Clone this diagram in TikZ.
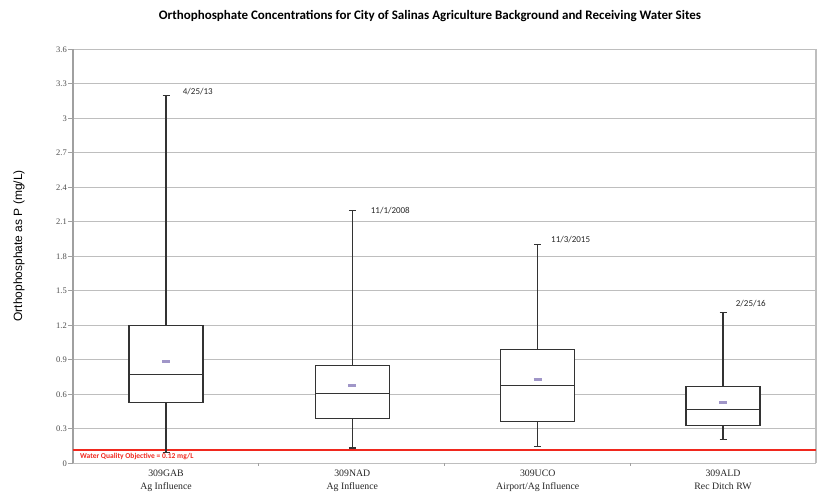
\documentclass[tikz,border=0pt]{standalone}
\usepackage{fontspec}
\setmainfont{Liberation Serif}
\setsansfont{Liberation Sans}
\newfontfamily\calibri{Carlito}
\usepackage{tikz}
\usetikzlibrary{calc,positioning}
\definecolor{gridgray}{RGB}{190,190,190}
\definecolor{axisgray}{RGB}{160,160,160}
\definecolor{meanpurple}{RGB}{160,150,200}
\definecolor{wqored}{RGB}{240,40,30}

\begin{document}
\begin{tikzpicture}[x=1pt,y=115pt,
		gridline/.style={draw=gridgray,line width=1.2pt},
		boxline/.style={draw=black!80,line width=1.1pt},
		meanmark/.style={draw=meanpurple,line width=2.4pt},
		ticklabel/.style={font=\fontsize{8.5}{9}\selectfont,text=black!70,anchor=east,inner sep=1pt},
		datelabel/.style={font=\calibri\fontsize{9}{10}\selectfont,text=black!85,anchor=west,inner sep=0pt},
		sitelabel/.style={font=\fontsize{9.8}{12.6}\selectfont,text=black!85,align=center,anchor=north,inner sep=0pt}]
		\useasboundingbox (-73,-0.3191) rectangle (744,4.0287);
		% title and axis title
		\node(title) at (357,3.886) {\calibri\bfseries\fontsize{13}{14}\selectfont Orthophosphate Concentrations for City of Salinas Agriculture Background and Receiving Water Sites};
		\node(ytitle) at (-54,1.89) [rotate=90] {\sffamily\fontsize{12}{14}\selectfont Orthophosphate as P (mg/L)};
		% grid
		\foreach \v/\t in {0/0,0.3/0.3,0.6/0.6,0.9/0.9,1.2/1.2,1.5/1.5,1.8/1.8,2.1/2.1,2.4/2.4,2.7/2.7,3/3,3.3/3.3,3.6/3.6}{
			\draw[gridline] (0,\v) -- (743,\v);
			\draw[draw=axisgray,line width=0.8pt] (-5,\v) -- (0,\v);
			\node(tick\t) at (-5,\v) [ticklabel] {\t};
		}
		\draw[draw=gridgray,line width=1.2pt] (743,0) -- (743,3.6);
		\draw[draw=axisgray,line width=1.1pt] (0,0) -- (0,3.6);
		\foreach \b in {1,2,3}
			\draw[draw=axisgray,line width=0.6pt] (\b*185.75,0) -- ++(0,-0.02);
		% objective line
		\draw[color=wqored,line width=2pt] (0,0.12) -- (743,0.12);
		\node(wqo) at (7,0.056) [anchor=west,inner sep=0pt] {\calibri\bfseries\fontsize{7.5}{8}\selectfont\color{wqored}Water Quality Objective = 0.12 mg/L};
		% boxes
		\foreach \n/\cx/\lo/\qa/\md/\qb/\hi/\mn/\dx/\dy/\dat/\site/\desc in {
			1/93/0.095/0.53/0.77/1.2/3.2/0.885/16.7/3.231/4\slash 25\slash 13/309GAB/Ag Influence,
			2/279.3/0.133/0.39/0.61/0.85/2.2/0.675/18.4/2.197/11\slash 1\slash 2008/309NAD/Ag Influence,
			3/464.7/0.148/0.36/0.68/0.99/1.9/0.73/13.3/1.942/11\slash 3\slash 2015/309UCO/Airport\slash Ag Influence,
			4/650/0.205/0.33/0.465/0.67/1.31/0.53/12.7/1.385/2\slash 25\slash 16/309ALD/Rec Ditch RW}{
			\coordinate(top\n) at (\cx,\hi);
			\coordinate(bot\n) at (\cx,\lo);
			\coordinate(qa\n) at (\cx,\qa);
			\coordinate(qb\n) at (\cx,\qb);
			\draw[boxline] (top\n) -- (qb\n);
			\draw[boxline] (bot\n) -- (qa\n);
			\draw[boxline] ($(top\n)+(-3.5,0)$) -- ($(top\n)+(3.5,0)$);
			\draw[boxline] ($(bot\n)+(-3.5,0)$) -- ($(bot\n)+(3.5,0)$);
			\draw[boxline,fill=white] ($(qa\n)+(-37,0)$) rectangle ($(qb\n)+(37,0)$);
			\draw[boxline] (\cx-37,\md) -- (\cx+37,\md);
			\draw[meanmark] (\cx-4,\mn) -- (\cx+4,\mn);
			\node(date\n) at (\cx+\dx,\dy) [datelabel] {\dat};
			\node(site\n) at (\cx,-0.06) [sitelabel] {\site\\\desc};
		}
	\end{tikzpicture}
\end{document}
